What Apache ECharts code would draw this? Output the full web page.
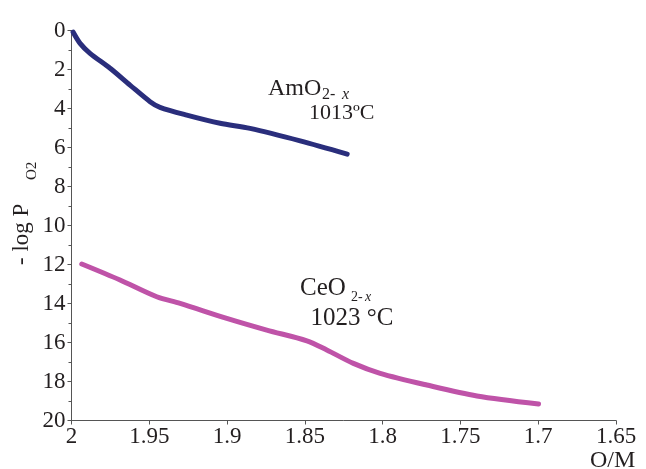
<!DOCTYPE html>
<html>
<head>
<meta charset="utf-8">
<script src="https://cdn.jsdelivr.net/npm/echarts@6/dist/echarts.min.js"></script>
<style>
html,body{margin:0;padding:0;background:#fff;}
#c{width:646px;height:469px;}
</style>
</head>
<body>
<div id="c"></div>
<script>
// O/M ratio (x) and -log pO2 (y)
var amX = [1.999, 1.9945, 1.9881, 1.9752, 1.9624, 1.9495, 1.9431, 1.9259, 1.9045, 1.8852, 1.853, 1.8228];
var amY = [0.07, 0.65, 1.16, 1.93, 2.79, 3.64, 3.93, 4.33, 4.75, 5.01, 5.65, 6.33];
var ceX = [1.9934, 1.9688, 1.9452, 1.9302, 1.9002, 1.8745, 1.8487, 1.8359, 1.8188, 1.8016, 1.7716, 1.7394, 1.6998];
var ceY = [11.97, 12.79, 13.65, 13.99, 14.76, 15.36, 15.91, 16.38, 17.07, 17.58, 18.18, 18.74, 19.15];
var xTickLabels = ['2', '1.95', '1.9', '1.85', '1.8', '1.75', '1.7', '1.65'];
var yTickLabels = ['0', '2', '4', '6', '8', '10', '12', '14', '16', '18', '20'];
var seriesNames = ['AmO2-x 1013ºC', 'CeO2-x 1023 °C'];

function pairs(xs, ys) { return xs.map(function (x, i) { return [x, ys[i]]; }); }

var FONT = 'Liberation Serif';
var TXT = '#231f20';
var AXIS = '#555555';

var chart = echarts.init(document.getElementById('c'), null, {renderer: 'canvas'});
chart.setOption({
  animation: false,
  backgroundColor: '#ffffff',
  grid: {left: 71.5, right: 30, top: 30.7, bottom: 48.5, containLabel: false, outerBoundsMode: 'none'},
  xAxis: {
    type: 'value', inverse: true, min: 1.65, max: 2, interval: 0.05,
    axisLine: {show: true, onZero: false, lineStyle: {color: AXIS, width: 1}},
    axisTick: {show: true, inside: false, length: 4, lineStyle: {color: AXIS}},
    splitLine: {show: false},
    axisLabel: {
      margin: 5, color: TXT, fontFamily: FONT, fontSize: 23,
      formatter: function (v) {
        var idx = Math.round((2 - v) / 0.05);
        return xTickLabels[idx] !== undefined ? xTickLabels[idx] : '';
      }
    }
  },
  yAxis: {
    type: 'value', inverse: true, min: 0, max: 20, interval: 2,
    axisLine: {show: true, onZero: false, lineStyle: {color: AXIS, width: 1}},
    axisTick: {show: true, inside: false, length: 4, lineStyle: {color: AXIS}},
    minorTick: {show: true, splitNumber: 2, length: 3, lineStyle: {color: AXIS}},
    splitLine: {show: false},
    minorSplitLine: {show: false},
    axisLabel: {
      margin: 6, color: TXT, fontFamily: FONT, fontSize: 23, padding: [0, 0, 9, 0],
      formatter: function (v) {
        var idx = Math.round(v / 2);
        return yTickLabels[idx] !== undefined ? yTickLabels[idx] : '';
      }
    }
  },
  series: [
    {
      name: seriesNames[0], type: 'line', data: pairs(amX, amY), smooth: 0.3,
      showSymbol: false, symbol: 'none',
      lineStyle: {color: '#2a2e7c', width: 5, cap: 'round', join: 'round'}
    },
    {
      name: seriesNames[1], type: 'line', data: pairs(ceX, ceY), smooth: 0.3,
      showSymbol: false, symbol: 'none',
      lineStyle: {color: '#bf53a8', width: 5, cap: 'round', join: 'round'}
    }
  ],
  graphic: [
    // y-axis title
    {
      type: 'group', x: 22, y: 265, rotation: Math.PI / 2,
      children: [
        {type: 'text', style: {x: 0, y: 0, text: '- log P', fill: TXT, font: '23px "' + FONT + '"', align: 'left', verticalAlign: 'middle'}},
        {type: 'text', style: {x: 85, y: 10, text: 'O2', fill: TXT, font: '15px "' + FONT + '"', align: 'left', verticalAlign: 'middle'}}
      ]
    },
    // x-axis title
    {type: 'text', x: 590, y: 461, style: {text: 'O/M', fill: TXT, font: '24px "' + FONT + '"', align: 'left', verticalAlign: 'middle'}},
    // AmO2-x label
    {type: 'text', x: 268, y: 89, style: {text: 'AmO', fill: TXT, font: '24px "' + FONT + '"', align: 'left', verticalAlign: 'middle'}},
    {type: 'text', x: 322, y: 95, style: {text: '2-', fill: TXT, font: '16px "' + FONT + '"', align: 'left', verticalAlign: 'middle'}},
    {type: 'text', x: 342, y: 95, style: {text: 'x', fill: TXT, font: 'italic 16px "' + FONT + '"', align: 'left', verticalAlign: 'middle'}},
    {type: 'text', x: 309, y: 113.5, style: {text: '1013ºC', fill: TXT, font: '22px "' + FONT + '"', align: 'left', verticalAlign: 'middle'}},
    // CeO2-x label
    {type: 'text', x: 300, y: 288, style: {text: 'CeO', fill: TXT, font: '25px "' + FONT + '"', align: 'left', verticalAlign: 'middle'}},
    {type: 'text', x: 351, y: 297, style: {text: '2-', fill: TXT, font: '14px "' + FONT + '"', align: 'left', verticalAlign: 'middle'}},
    {type: 'text', x: 365, y: 297, style: {text: 'x', fill: TXT, font: 'italic 14px "' + FONT + '"', align: 'left', verticalAlign: 'middle'}},
    {type: 'text', x: 310.5, y: 318, style: {text: '1023 °C', fill: TXT, font: '25px "' + FONT + '"', align: 'left', verticalAlign: 'middle'}}
  ]
});
</script>
</body>
</html>
